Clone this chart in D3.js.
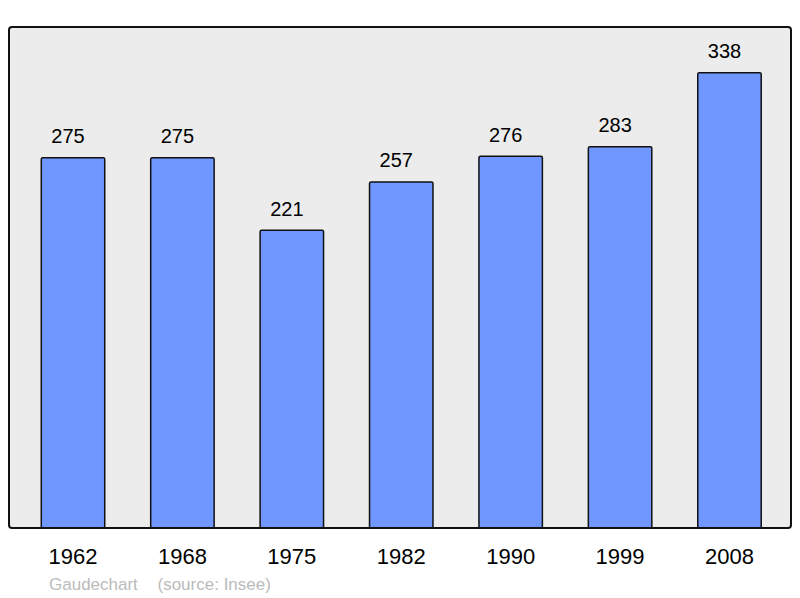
<!DOCTYPE html>
<html>
<head>
<meta charset="utf-8">
<script src="https://cdn.jsdelivr.net/npm/d3@7"></script>
<style>
  body { margin: 0; background: #fff; }
  text { font-family: "Liberation Sans", Arial, sans-serif; }
</style>
</head>
<body>
<div id="chart"></div>
<script>
const years = ["1962", "1968", "1975", "1982", "1990", "1999", "2008"];
const population = [275, 275, 221, 257, 276, 283, 338];
const footerLabels = ["Gaudechart", "(source: Insee)"];

const width = 800;
const height = 598;
const panel = { left: 9, top: 27, right: 791, bottom: 528 };

const svg = d3
  .select("#chart")
  .append("svg")
  .attr("width", width)
  .attr("height", height);

svg
  .append("rect")
  .attr("x", panel.left)
  .attr("y", panel.top)
  .attr("width", panel.right - panel.left)
  .attr("height", panel.bottom - panel.top)
  .attr("rx", 3)
  .attr("fill", "#ececec");

const xScale = d3
  .scaleBand()
  .domain(years)
  .range([18.3, 784.2])
  .paddingInner(0.42)
  .paddingOuter(0.21);

const yScale = d3.scaleLinear().domain([0, 372]).range([panel.bottom, panel.top]);

const bars = svg.append("g");

bars
  .selectAll("rect")
  .data(population)
  .enter()
  .append("rect")
  .attr("x", (d, i) => xScale(years[i]))
  .attr("y", (d) => yScale(d))
  .attr("width", xScale.bandwidth())
  .attr("height", (d) => yScale(0) - yScale(d))
  .attr("rx", 1.5)
  .attr("fill", "#7096ff")
  .attr("stroke", "#111")
  .attr("stroke-width", 1.5);

bars
  .selectAll("text")
  .data(population)
  .enter()
  .append("text")
  .attr("x", (d, i) => xScale(years[i]) + xScale.bandwidth() / 2 - 5)
  .attr("y", (d) => yScale(d) - 14.5)
  .attr("text-anchor", "middle")
  .attr("font-size", 20)
  .attr("fill", "#000")
  .text((d) => d);

// panel border drawn over the bars' bottoms
svg
  .append("rect")
  .attr("x", panel.left)
  .attr("y", panel.top)
  .attr("width", panel.right - panel.left)
  .attr("height", panel.bottom - panel.top)
  .attr("rx", 3)
  .attr("fill", "none")
  .attr("stroke", "#111")
  .attr("stroke-width", 2);

const xAxis = svg
  .append("g")
  .attr("transform", `translate(0, ${panel.bottom})`)
  .call(d3.axisBottom(xScale).tickSize(0).tickPadding(0));

xAxis.select(".domain").remove();
xAxis
  .selectAll("text")
  .attr("font-size", 22)
  .attr("font-family", '"Liberation Sans", Arial, sans-serif')
  .attr("fill", "#000")
  .attr("dy", null)
  .attr("y", 36.3);

svg
  .append("g")
  .selectAll("text")
  .data(footerLabels)
  .enter()
  .append("text")
  .attr("x", (d, i) => (i === 0 ? 49 : 157.5))
  .attr("y", 590)
  .attr("font-size", 17)
  .attr("fill", "#bbbbbb")
  .text((d) => d);
</script>
</body>
</html>
